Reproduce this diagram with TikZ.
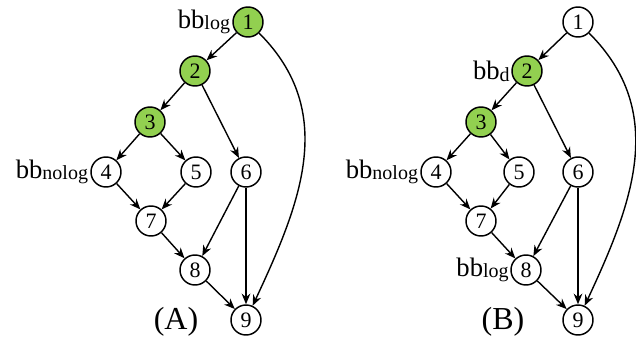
\documentclass[tikz,border=0pt]{standalone}
\usepackage{fontspec}
\setmainfont{Liberation Serif}
\usepackage{xcolor}
\usetikzlibrary{positioning,arrows.meta}
\definecolor{bbgreen}{HTML}{92D050}
\newcommand{\bbname}[1]{{\fontsize{20}{20}\selectfont bb}{\fontsize{15}{15}\selectfont\raisebox{-1.3pt}{#1}}}

\begin{document}
\begin{tikzpicture}[x=0.75pt, y=-0.75pt,
    bblock/.style={circle, draw, line width=1.1pt, minimum size=22.5pt, inner sep=0pt, font=\fontsize{16.5}{16.5}\selectfont},
    hot/.style={bblock, fill=bbgreen},
    edge/.style={-{Stealth[length=8pt,width=6.5pt]}, line width=1.05pt},
    bblabel/.style={inner sep=0pt}
]
    \useasboundingbox (0,0) rectangle (636,343);

    % (A)
    \node[hot]    (a1) at (248,22)  {1};
    \node[hot]    (a2) at (195,71)  {2};
    \node[hot]    (a3) at (150,122) {3};
    \node[bblock] (a4) at (106,172) {4};
    \node[bblock] (a5) at (196,172) {5};
    \node[bblock] (a6) at (246,172) {6};
    \node[bblock] (a7) at (151,221) {7};
    \node[bblock] (a8) at (195,270) {8};
    \node[bblock] (a9) at (246,320) {9};

    \node[bblabel, left=1.5pt of a1] (la1) {\bbname{log}};
    \node[bblabel, left=1.5pt of a4] (la4) {\bbname{nolog}};
    \node (capa) at (176,322) {\fontsize{24}{24}\selectfont (A)};

    \draw[edge] (a1) -- (a2);
    \draw[edge] (a2) -- (a3);
    \draw[edge] (a2) -- (a6);
    \draw[edge] (a3) -- (a4);
    \draw[edge] (a3) -- (a5);
    \draw[edge] (a4) -- (a7);
    \draw[edge] (a5) -- (a7);
    \draw[edge] (a6) -- (a8);
    \draw[edge] (a6) -- (a9);
    \draw[edge] (a7) -- (a8);
    \draw[edge] (a8) -- (a9);
    \draw[edge] (a1) to[out=-45, in=65, looseness=1.05] (a9);

    % (B)
    \node[bblock] (b1) at (578,22)  {1};
    \node[hot]    (b2) at (527,71)  {2};
    \node[hot]    (b3) at (481,122) {3};
    \node[bblock] (b4) at (436,172) {4};
    \node[bblock] (b5) at (519,172) {5};
    \node[bblock] (b6) at (578,172) {6};
    \node[bblock] (b7) at (481,221) {7};
    \node[bblock] (b8) at (526,270) {8};
    \node[bblock] (b9) at (578,320) {9};

    \node[bblabel, left=1pt of b2] (lb2) {\bbname{d}};
    \node[bblabel, left=1.5pt of b4] (lb4) {\bbname{nolog}};
    \node[bblabel, left=1pt of b8] (lb8) {\bbname{log}};
    \node (capb) at (503,322) {\fontsize{24}{24}\selectfont (B)};

    \draw[edge] (b1) -- (b2);
    \draw[edge] (b2) -- (b3);
    \draw[edge] (b2) -- (b6);
    \draw[edge] (b3) -- (b4);
    \draw[edge] (b3) -- (b5);
    \draw[edge] (b4) -- (b7);
    \draw[edge] (b5) -- (b7);
    \draw[edge] (b6) -- (b8);
    \draw[edge] (b6) -- (b9);
    \draw[edge] (b7) -- (b8);
    \draw[edge] (b8) -- (b9);
    \draw[edge] (b1) to[out=-45, in=65, looseness=1.05] (b9);
\end{tikzpicture}
\end{document}
